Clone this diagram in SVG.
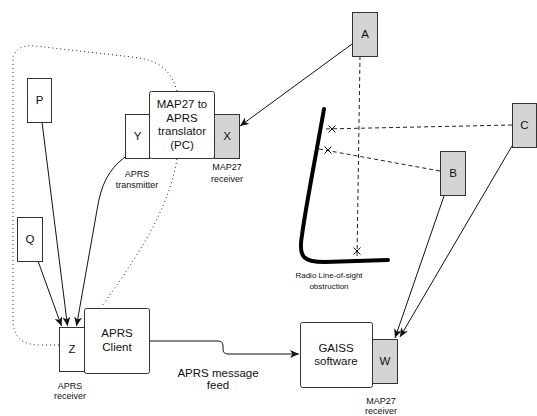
<svg xmlns="http://www.w3.org/2000/svg" width="537" height="416" viewBox="0 0 537 416">
<style>
.box{fill:#ffffff;stroke:#333333;stroke-width:1}
.gray{fill:#d4d4d4;stroke:#333333;stroke-width:1}
.t{font-family:"Liberation Sans",Arial,sans-serif;fill:#111111;text-anchor:middle}
.big{font-size:11.5px}
.small{font-size:9px}
.tiny{font-size:8px}
.edge{fill:none;stroke:#111111;stroke-width:1}
.dash{fill:none;stroke:#222222;stroke-width:1;stroke-dasharray:4,3}
.dot{fill:none;stroke:#222222;stroke-width:1;stroke-dasharray:1,3}
.cross{fill:none;stroke:#111111;stroke-width:1}
</style>
<defs>
<marker id="arr" markerUnits="userSpaceOnUse" markerWidth="10" markerHeight="8" refX="9" refY="4" orient="auto" viewBox="0 0 10 8">
<path d="M0,0 L9,4 L0,8 L2.5,4 Z" fill="#111111"/>
</marker>
</defs>

<g id="connectors">
<path class="edge" d="M352,44 L240,126" marker-end="url(#arr)"/>
<path class="edge" d="M444,196 L395,338" marker-end="url(#arr)"/>
<path class="edge" d="M512,146 L400,337" marker-end="url(#arr)"/>
<path class="edge" d="M42,122 L67.5,326" marker-end="url(#arr)"/>
<path class="edge" d="M38,261 L61.5,326" marker-end="url(#arr)"/>
<path class="edge" d="M125,157 C108,170 101,185 97,210 L76.5,326" marker-end="url(#arr)"/>
<path class="edge" d="M150,341 L218,341 Q223,341 223,346 L223,349 Q223,354 228,354 L299,354" marker-end="url(#arr)"/>
<path class="dash" d="M360,56 L357,259"/>
<path class="dash" d="M512,125 L324,129"/>
<path class="dash" d="M440,171 L319,149"/>
<path class="cross" d="M353.5,247.5 L360.5,254.5 M360.5,247.5 L353.5,254.5"/>
<path class="cross" d="M328.5,125.5 L335.5,132.5 M335.5,125.5 L328.5,132.5"/>
<path class="cross" d="M324.5,146.5 L331.5,153.5 M331.5,146.5 L324.5,153.5"/>
<path class="dot" d="M177,91 C171,72 162,60 132,57 L35,46 Q13,44 13,62 L13,322 Q14,345 40,345 L59,345"/>
<path class="dot" d="M177,159 C170,200 150,240 102,306"/>
<path d="M324,109 C316,155 306,205 302,235 C298,258 304,262 325,262 L388,260" fill="none" stroke="#000000" stroke-width="4" stroke-linecap="round"/>
</g>

<g id="node-A"><rect class="gray" x="352.5" y="12.5" width="25" height="44"/><text class="t big" x="365" y="38">A</text></g>
<g id="node-B"><rect class="gray" x="440.5" y="151.5" width="25" height="44"/><text class="t big" x="453" y="177">B</text></g>
<g id="node-C"><rect class="gray" x="512.5" y="103.5" width="24" height="44"/><text class="t big" x="524.5" y="129">C</text></g>
<g id="node-P"><rect class="box" x="27.5" y="78.5" width="24" height="44"/><text class="t big" x="39.5" y="104">P</text></g>
<g id="node-Q"><rect class="box" x="17.5" y="217.5" width="25" height="44"/><text class="t big" x="30" y="243">Q</text></g>
<g id="node-translator"><rect class="box" x="149.5" y="91.5" width="65" height="67" rx="2"/>
<text class="t big" x="182" y="108">MAP27 to</text>
<text class="t big" x="182" y="121.5">APRS</text>
<text class="t big" x="182" y="135">translator</text>
<text class="t big" x="182" y="148.5">(PC)</text></g>
<g id="node-Y"><rect class="box" x="125.5" y="114.5" width="24" height="44"/><text class="t big" x="137.5" y="140">Y</text>
<text class="t small" x="137" y="176.5">APRS</text><text class="t small" x="137" y="187.5">transmitter</text></g>
<g id="node-X"><rect class="gray" x="214.5" y="114.5" width="25" height="44"/><text class="t big" x="227" y="140">X</text>
<text class="t small" x="227" y="170">MAP27</text><text class="t small" x="227" y="182">receiver</text></g>
<g id="node-client"><rect class="box" x="84.5" y="308.5" width="65" height="65" rx="2"/>
<text class="t big" x="117" y="337">APRS</text><text class="t big" x="117" y="351">Client</text></g>
<g id="node-Z"><rect class="box" x="59.5" y="327.5" width="25" height="44"/><text class="t big" x="72" y="353">Z</text>
<text class="t small" x="70" y="388.5">APRS</text><text class="t small" x="70" y="398.5">receiver</text></g>
<g id="node-gaiss"><rect class="box" x="300.5" y="322.5" width="72" height="65" rx="2"/>
<text class="t big" x="336" y="352">GAISS</text><text class="t big" x="336" y="365">software</text></g>
<g id="node-W"><rect class="gray" x="372.5" y="339.5" width="25" height="44"/><text class="t big" x="385" y="365">W</text>
<text class="t small" x="381" y="404">MAP27</text><text class="t small" x="381" y="414">receiver</text></g>
<g id="label-obstruction">
<text class="t tiny" x="329" y="278">Radio Line-of-sight</text><text class="t tiny" x="329" y="289">obstruction</text></g>
<g id="label-feed">
<text class="t big" x="218" y="377">APRS message</text><text class="t big" x="218" y="389">feed</text></g>
</svg>
